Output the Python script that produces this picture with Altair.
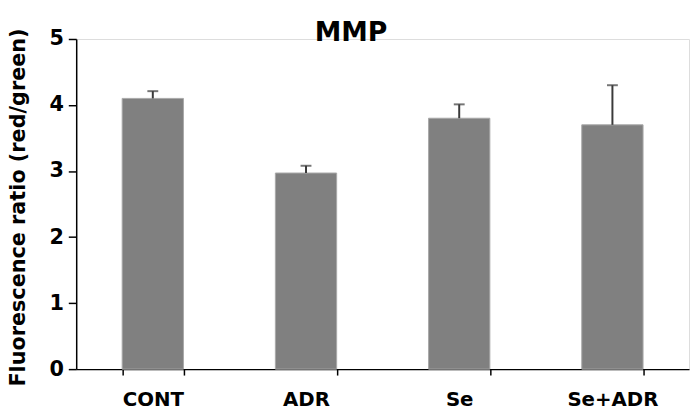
import altair as alt
import pandas as pd

groups = ["CONT", "ADR", "Se", "Se+ADR"]
means = [4.10, 2.97, 3.80, 3.70]
errors = [0.11, 0.11, 0.21, 0.60]
title_text = ["MMP"]

df = pd.DataFrame({"group": groups, "mean": means, "err": errors})
df["top"] = df["mean"] + df["err"]
title_df = pd.DataFrame({"t": title_text})

FONT = "DejaVu Sans"

x_enc = alt.X(
    "group:N",
    sort=groups,
    scale=alt.Scale(paddingInner=0.6, paddingOuter=0.3),
    axis=alt.Axis(
        title=None,
        labelAngle=0,
        labelFont=FONT,
        labelFontSize=20,
        labelFontWeight="bold",
        labelColor="black",
        labelBaseline="alphabetic",
        labelPadding=31,
        tickBand="extent",
        tickSize=6,
        tickColor="black",
        domainColor="black",
        tickWidth=1.5,
        domainWidth=1.5,
    ),
)

y_enc = alt.Y(
    "mean:Q",
    scale=alt.Scale(domain=[0, 5], nice=False),
    axis=alt.Axis(
        title="Fluorescence ratio (red/green)",
        titleFont=FONT,
        titleFontSize=21,
        titleFontWeight="bold",
        titleColor="black",
        titleX=-58,
        titleY=170,
        titleAngle=-90,
        titleAlign="center",
        titleBaseline="middle",
        values=[0, 1, 2, 3, 4, 5],
        format="d",
        labelFont=FONT,
        labelFontSize=21,
        labelFontWeight="bold",
        labelColor="black",
        labelPadding=5,
        tickSize=8,
        tickColor="black",
        domainColor="black",
        tickWidth=1.5,
        domainWidth=1.5,
        grid=False,
    ),
)

bars = alt.Chart(df).mark_bar(color="#808080", stroke="#a8a8a8", strokeWidth=1).encode(
    x=x_enc, y=y_enc
)

rules = alt.Chart(df).mark_rule(color="#3a3a3a", strokeWidth=2).encode(
    x=alt.X("group:N", sort=groups), y="mean:Q", y2="top:Q"
)

caps = alt.Chart(df).mark_tick(color="#3a3a3a", thickness=2, size=11).encode(
    x=alt.X("group:N", sort=groups), y="top:Q"
)

title_mark = alt.Chart(title_df).mark_text(
    font=FONT, fontSize=27, fontWeight="bold", color="black",
    align="center", baseline="alphabetic",
).encode(text="t:N", x=alt.value(278), y=alt.value(2))

chart = (
    alt.layer(bars, rules, caps, title_mark)
    .properties(
        width=620,
        height=334,
        autosize=alt.AutoSizeParams(type="none"),
        padding={"left": 69, "top": 29, "right": 2, "bottom": 40},
    )
    .configure_view(stroke="transparent", strokeWidth=0)
    .configure(background="white")
)

chart.save("out.html", embed_options={"renderer": "svg", "actions": False})
